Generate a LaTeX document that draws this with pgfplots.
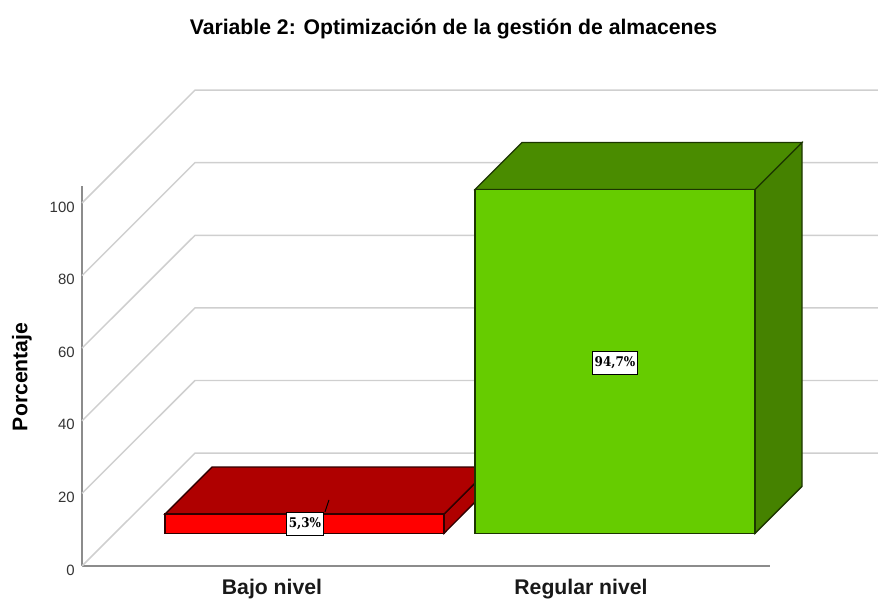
\documentclass[border=0pt]{standalone}
\usepackage{fontspec}
\setmainfont{Liberation Sans}
\newfontfamily\labelfont{DejaVu Serif Condensed}
\usepackage{pgfplots}
\pgfplotsset{compat=1.18}
\definecolor{gridgray}{HTML}{CFCFCF}
\definecolor{axisgray}{HTML}{8C8C8C}
\definecolor{barred}{HTML}{FF0000}
\definecolor{barredtop}{HTML}{AF0000}
\definecolor{bargreen}{HTML}{66CC00}
\definecolor{bargreentop}{HTML}{4A8C00}
\definecolor{bargreenside}{HTML}{458200}
\definecolor{edgered}{HTML}{300000}
\definecolor{edgegreen}{HTML}{1C3600}
\begin{document}
\begin{tikzpicture}[x=0.75pt,y=0.75pt]
  \useasboundingbox (-82,-33) rectangle (796,566);
  \begin{axis}[
      at={(0,0)},
      anchor=south west,
      scale only axis,
      width=516pt,
      height=285pt,
      xmin=82, xmax=770,
      ymin=0, ymax=104.68,
      clip=false,
      axis x line*=bottom,
      axis y line*=left,
      axis line style={-, axisgray, line width=1.2pt},
      major tick length=0pt,
      xtick={272,581},
      xticklabels={Bajo nivel,Regular nivel},
      ytick={0,20,...,100},
      /pgf/number format/assume math mode=true,
      xticklabel style={font=\bfseries\fontsize{15.9}{18}\selectfont, text=black!90, anchor=center, yshift=-17.5pt},
      yticklabel style={font=\fontsize{11.2}{13}\selectfont, text=black!80, anchor=east, xshift=-2pt, yshift=-3pt},
      ylabel={Porcentaje},
      ylabel style={font=\bfseries\fontsize{15.9}{18}\selectfont, at={(axis cs:22,52.1)}, anchor=center, rotate=0},
      title={Variable 2: Optimización de la gestión de almacenes},
      title style={font=\bfseries\fontsize{15.9}{18}\selectfont, at={(axis cs:453.5,148.5)}, anchor=center, yshift=-7.5pt},
    ]
    % back wall grid
    \addplot[gridgray, line width=1.1pt] coordinates {(82,0) (195,31.1) (878,31.1)};
    \addplot[gridgray, line width=1.1pt] coordinates {(82,20) (195,51.1) (878,51.1)};
    \addplot[gridgray, line width=1.1pt] coordinates {(82,40) (195,71.1) (878,71.1)};
    \addplot[gridgray, line width=1.1pt] coordinates {(82,60) (195,91.1) (878,91.1)};
    \addplot[gridgray, line width=1.1pt] coordinates {(82,80) (195,111.1) (878,111.1)};
    \addplot[gridgray, line width=1.1pt] coordinates {(82,100) (195,131.1) (878,131.1)};
    % Bajo nivel 5,3
    \addplot[draw=edgered, fill=barredtop, line width=1pt] coordinates {(444,14.3) (491,27.25) (491,22.05) (444,9.0)} -- cycle;
    \addplot[draw=edgered, fill=barredtop, line width=1pt] coordinates {(165,14.3) (212,27.25) (491,27.25) (444,14.3)} -- cycle;
    \addplot[draw=edgered, fill=barred, line width=1pt] coordinates {(165,9.0) (165,14.3) (444,14.3) (444,9.0)} -- cycle;
    % Regular nivel 94,7
    \addplot[draw=edgegreen, fill=bargreenside, line width=1pt] coordinates {(755,103.7) (802,116.65) (802,21.95) (755,9.0)} -- cycle;
    \addplot[draw=edgegreen, fill=bargreentop, line width=1pt] coordinates {(475,103.7) (522,116.65) (802,116.65) (755,103.7)} -- cycle;
    \addplot[draw=edgegreen, fill=bargreen, line width=1pt] coordinates {(475,9.0) (475,103.7) (755,103.7) (755,9.0)} -- cycle;
    % leader of the small label
    \addplot[black, line width=0.7pt] coordinates {(325,14.9) (329,18.2)};
    % value labels
    \addplot[draw=none, mark=none, point meta=explicit symbolic,
      nodes near coords,
      every node near coord/.style={anchor=center, fill=white, draw=black, line width=0.7pt,
        inner xsep=1.6pt, inner ysep=4pt, text=black, font=\labelfont\bfseries\fontsize{10}{11}\selectfont}]
      coordinates {(305,11.6)[5,3\%] (615,56)[94,7\%]};
  \end{axis}
\end{tikzpicture}
\end{document}
